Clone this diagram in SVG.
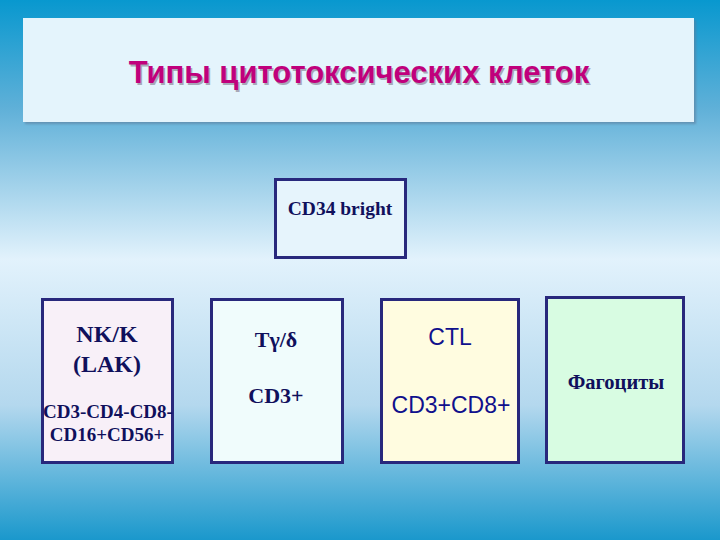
<svg xmlns="http://www.w3.org/2000/svg" width="720" height="540" viewBox="0 0 720 540">
<defs>
<linearGradient id="bg" x1="0" y1="0" x2="0" y2="1">
<stop offset="0" stop-color="#0898cf"/>
<stop offset="0.2" stop-color="#5fb0d8"/>
<stop offset="0.48" stop-color="#e2f2fc"/>
<stop offset="0.75" stop-color="#b4d8ee"/>
<stop offset="1" stop-color="#1a98cc"/>
</linearGradient>
<filter id="sh" x="-5%" y="-5%" width="110%" height="110%">
<feDropShadow dx="2" dy="2" stdDeviation="1" flood-color="#5a7a9a" flood-opacity="0.6"/>
</filter>
</defs>
<style>
.box{stroke:#28287c;stroke-width:3}
.t{font-family:"Liberation Serif","Times New Roman",serif;font-weight:bold;fill:#10105c;text-anchor:middle}
.a{font-family:"Liberation Sans",Arial,sans-serif;fill:#10108c;text-anchor:middle}
.title{font-family:"Liberation Sans",Arial,sans-serif;font-weight:bold;font-size:31px;fill:#c0007c;text-anchor:middle}
</style>
<rect width="720" height="540" fill="url(#bg)"/>
<g id="title">
<rect x="23" y="18" width="671" height="104" fill="#e4f4fc" filter="url(#sh)"/>
<text class="title" x="359" y="83" style="fill:#a8a8b8" dx="1.5" dy="1.5">Типы цитотоксических клеток</text>
<text class="title" x="359" y="83">Типы цитотоксических клеток</text>
</g>
<g id="cd34">
<rect class="box" x="275.5" y="179.5" width="130" height="78" fill="#e6f4fc"/>
<text class="t" x="340" y="215" font-size="19.5">CD34 bright</text>
</g>
<g id="nk">
<rect class="box" x="42.5" y="299.5" width="130" height="163" fill="#f8f0f8"/>
<text class="t" x="107" y="342" font-size="24">NK/K</text>
<text class="t" x="107" y="372" font-size="24">(LAK)</text>
<text class="t" x="108" y="418" font-size="19">CD3-CD4-CD8-</text>
<text class="t" x="107" y="441" font-size="19">CD16+CD56+</text>
</g>
<g id="tgd">
<rect class="box" x="211.5" y="299.5" width="131" height="163" fill="#f0fcfc"/>
<text class="t" x="276" y="347" font-size="22">Tγ/δ</text>
<text class="t" x="276" y="403" font-size="22">CD3+</text>
</g>
<g id="ctl">
<rect class="box" x="381.5" y="299.5" width="137" height="163" fill="#fffce0"/>
<text class="a" x="450" y="345" font-size="23">CTL</text>
<text class="a" x="451" y="413" font-size="23">CD3+CD8+</text>
</g>
<g id="phag">
<rect class="box" x="546.5" y="297.5" width="137" height="165" fill="#d8fce2"/>
<text class="t" x="616" y="389" font-size="20.5">Фагоциты</text>
</g>
<g id="connectors"></g>
</svg>
